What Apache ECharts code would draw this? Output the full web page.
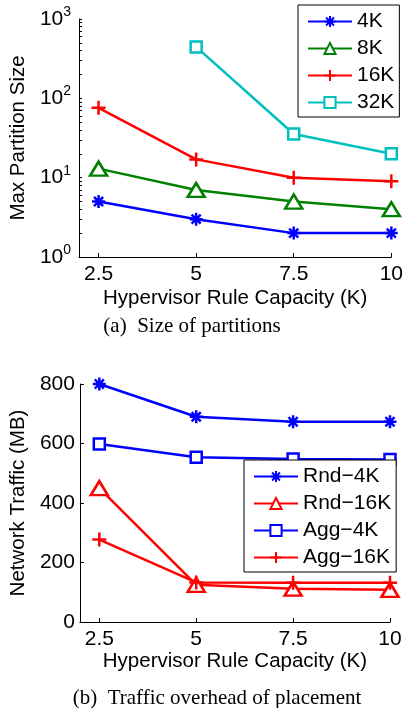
<!DOCTYPE html>
<html>
<head>
<meta charset="utf-8">
<script src="https://cdn.jsdelivr.net/npm/echarts@6/dist/echarts.min.js"></script>
<style>
  html, body { margin: 0; padding: 0; background: #fff; }
  #chart { width: 406px; height: 708px; }
</style>
</head>
<body>
<div id="chart"></div>
<script>
// x values (hypervisor rule capacity, K)
var capacity = [2.5, 5, 7.5, 10];

// (a) max partition size
var part4K = [5, 3, 2, 2];
var part8K = [13, 7, 5, 4];
var part16K = [76, 17, 10, 9];
var part32K = [null, 445, 35.5, 20];

// (b) network traffic (MB)
var rnd4K = [800, 690, 673, 673];
var rnd16K = [450, 125, 112, 108];
var agg4K = [598, 554, 548, 546];
var agg16K = [277, 133, 132, 132];

var xTicks = [2.5, 5, 7.5, 10];
var logTicks = [1, 2, 3, 4, 5, 6, 7, 8, 9, 10, 20, 30, 40, 50, 60, 70, 80, 90,
  100, 200, 300, 400, 500, 600, 700, 800, 900, 1000];

var BLUE = '#0000ff', GREEN = '#008000', RED = '#ff0000', CYAN = '#00bfbf';
var STAR = 'path://M0,-10L0,10M-10,0L10,0M-7,-7L7,7M-7,7L7,-7';
var PLUS = 'path://M0,-10L0,10M-10,0L10,0';
var FONT = '"Liberation Sans", Arial, sans-serif';
var SERIF = '21px "Liberation Serif", "Times New Roman", serif';

function pairs(ys) {
  var out = [];
  for (var i = 0; i < capacity.length; i++) {
    if (ys[i] != null) out.push([capacity[i], ys[i]]);
  }
  return out;
}

function mkSeries(name, ys, color, kind, xi) {
  var s = {
    name: name,
    type: 'line',
    xAxisIndex: xi,
    yAxisIndex: xi,
    data: pairs(ys),
    lineStyle: { color: color, width: 2.5 },
    emphasis: { disabled: true }
  };
  if (kind == 'star') {
    s.symbol = STAR; s.symbolSize = 13;
    s.itemStyle = { color: color, borderColor: color, borderWidth: 2.5 };
  } else if (kind == 'plus') {
    s.symbol = PLUS; s.symbolSize = 14;
    s.itemStyle = { color: color, borderColor: color, borderWidth: 2.5 };
  } else if (kind == 'tri') {
    s.symbol = 'triangle'; s.symbolSize = [17, 14];
    s.itemStyle = { color: '#fff', borderColor: color, borderWidth: 2.5 };
  } else {
    s.symbol = 'rect'; s.symbolSize = 11;
    s.itemStyle = { color: '#fff', borderColor: color, borderWidth: 2.5 };
  }
  return s;
}

function xAxisOf(gi, gap) {
  return {
    type: 'value', gridIndex: gi, min: 2, max: 10,
    name: 'Hypervisor Rule Capacity (K)', nameLocation: 'middle', nameGap: gap,
    nameTextStyle: { fontFamily: FONT, fontSize: 20.5, color: '#000' },
    axisLine: { lineStyle: { color: '#000', width: 1 } },
    axisTick: { inside: true, length: 4, customValues: xTicks, lineStyle: { color: '#000' } },
    axisLabel: { customValues: xTicks, fontFamily: FONT, fontSize: 21, color: '#000', margin: 7 },
    splitLine: { show: false }
  };
}

function legendOf(names, left, top) {
  return {
    data: names,
    orient: 'vertical', left: left, top: top,
    padding: [6, 5, 4, 9], itemGap: 6,
    itemWidth: 44, itemHeight: 14,
    backgroundColor: '#fff', borderColor: '#000', borderWidth: 1, borderRadius: 0,
    textStyle: { fontFamily: FONT, fontSize: 21, color: '#000' },
    selectedMode: false
  };
}

var chart = echarts.init(document.getElementById('chart'));
chart.setOption({
  animation: false,
  backgroundColor: '#fff',
  grid: [
    { left: 76, right: 13, top: 19, height: 238 },
    { left: 76, right: 16, top: 384, height: 238 }
  ],
  xAxis: [xAxisOf(0, 31), xAxisOf(1, 28)],
  yAxis: [
    {
      type: 'log', gridIndex: 0, logBase: 10, min: 1, max: 1000,
      name: 'Max Partition Size', nameLocation: 'middle', nameGap: 44,
      nameTextStyle: { fontFamily: FONT, fontSize: 20.5, color: '#000' },
      axisLine: { show: true, lineStyle: { color: '#000', width: 1 } },
      axisTick: { show: true, inside: true, length: 3, customValues: logTicks, lineStyle: { color: '#000' } },
      axisLabel: {
        fontFamily: FONT, color: '#000', margin: 8,
        formatter: function (v) {
          return '{b|10}{s|' + Math.round(Math.log10(v)) + '}';
        },
        rich: {
          b: { fontFamily: FONT, fontSize: 21, color: '#000' },
          s: { fontFamily: FONT, fontSize: 14, color: '#000', verticalAlign: 'top', padding: [0, 0, 14, 0] }
        }
      },
      splitLine: { show: false }
    },
    {
      type: 'value', gridIndex: 1, min: 0, max: 800, interval: 200,
      name: 'Network Traffic (MB)', nameLocation: 'middle', nameGap: 46,
      nameTextStyle: { fontFamily: FONT, fontSize: 20.5, color: '#000' },
      axisLine: { show: true, lineStyle: { color: '#000', width: 1 } },
      axisTick: { show: true, inside: true, length: 4, lineStyle: { color: '#000' } },
      axisLabel: { fontFamily: FONT, fontSize: 21, color: '#000', margin: 5 },
      splitLine: { show: false }
    }
  ],
  legend: [
    legendOf(['4K', '8K', '16K', '32K'], 298, 5),
    legendOf(['Rnd\u22124K', 'Rnd\u221216K', 'Agg\u22124K', 'Agg\u221216K'], 244, 460)
  ],
  graphic: [
    { type: 'text', x: 192, y: 326, style: { text: '(a)  Size of partitions', font: SERIF, fill: '#000', textAlign: 'center', textVerticalAlign: 'middle' } },
    { type: 'text', x: 217, y: 698, style: { text: '(b)  Traffic overhead of placement', font: SERIF, fill: '#000', textAlign: 'center', textVerticalAlign: 'middle' } }
  ],
  series: [
    mkSeries('4K', part4K, BLUE, 'star', 0),
    mkSeries('8K', part8K, GREEN, 'tri', 0),
    mkSeries('16K', part16K, RED, 'plus', 0),
    mkSeries('32K', part32K, CYAN, 'rect', 0),
    mkSeries('Rnd\u22124K', rnd4K, BLUE, 'star', 1),
    mkSeries('Rnd\u221216K', rnd16K, RED, 'tri', 1),
    mkSeries('Agg\u22124K', agg4K, BLUE, 'rect', 1),
    mkSeries('Agg\u221216K', agg16K, RED, 'plus', 1)
  ]
});
</script>
</body>
</html>
